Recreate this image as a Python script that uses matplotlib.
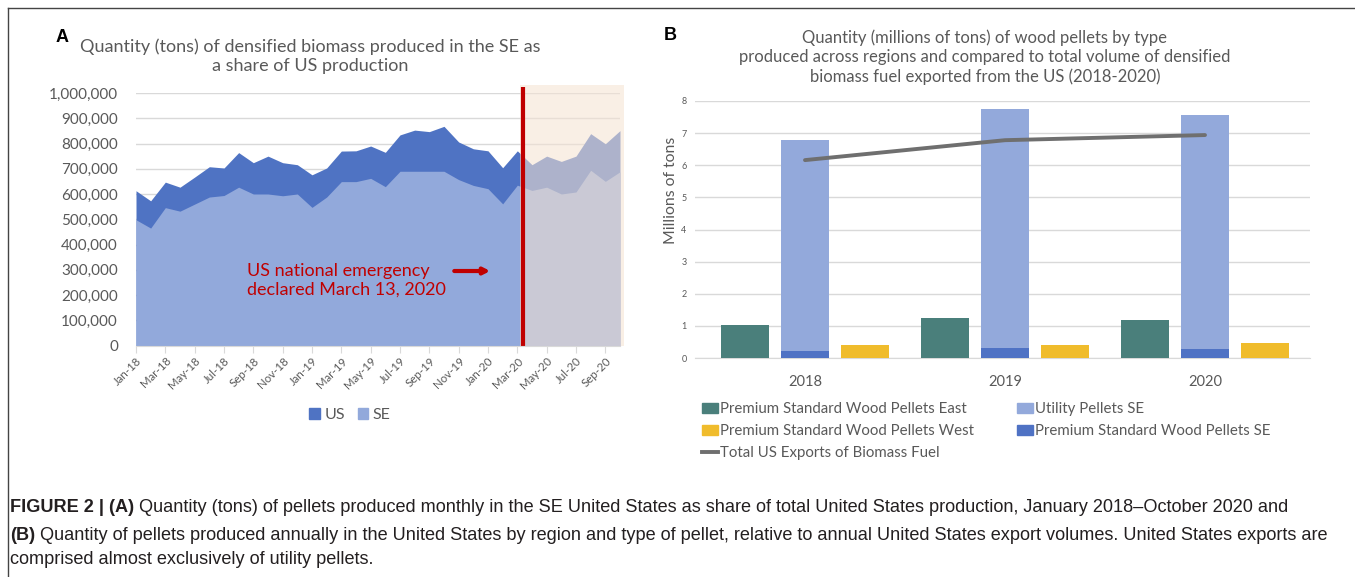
import matplotlib
matplotlib.use("Agg")
import matplotlib.pyplot as plt
from matplotlib.patches import Rectangle, Patch
from matplotlib.lines import Line2D
from matplotlib.ticker import FuncFormatter

# ---------------- data ----------------
months = ["Jan-18", "Feb-18", "Mar-18", "Apr-18", "May-18", "Jun-18", "Jul-18", "Aug-18",
          "Sep-18", "Oct-18", "Nov-18", "Dec-18", "Jan-19", "Feb-19", "Mar-19", "Apr-19",
          "May-19", "Jun-19", "Jul-19", "Aug-19", "Sep-19", "Oct-19", "Nov-19", "Dec-19",
          "Jan-20", "Feb-20", "Mar-20", "Apr-20", "May-20", "Jun-20", "Jul-20", "Aug-20",
          "Sep-20", "Oct-20"]
us_tons = [613000, 573000, 647000, 627000, 667000, 708000, 703000, 764000, 724000, 750000,
           724000, 716000, 676000, 703000, 770000, 771000, 790000, 765000, 834000, 853000,
           847000, 868000, 806000, 779000, 771000, 704000, 771000, 716000, 750000, 729000,
           750000, 839000, 799000, 851000]
se_tons = [498000, 465000, 546000, 532000, 560000, 588000, 594000, 627000, 600000, 600000,
           593000, 600000, 547000, 588000, 649000, 649000, 662000, 629000, 690000, 690000,
           690000, 690000, 657000, 634000, 621000, 561000, 635000, 614000, 627000, 600000,
           608000, 694000, 650000, 688000]
emergency_month = 26.4   # March 13, 2020 on the month axis

years = ["2018", "2019", "2020"]
premium_east = [1.02, 1.24, 1.19]
premium_se = [0.23, 0.32, 0.29]
utility_se = [6.56, 7.43, 7.26]
premium_west = [0.39, 0.42, 0.48]
total_exports = [6.16, 6.78, 6.94]

# ---------------- style ----------------
W, H = 1355, 577
fig = plt.figure(figsize=(W / 100, H / 100), dpi=100)
FONT = ["Lato", "DejaVu Sans"]
CAP = ["Liberation Sans", "DejaVu Sans"]
GREY = "#595959"
GRID = "#D9D9D9"
C_US = "#4F73C3"
C_SE = "#92A9DB"
C_EAST = "#4A7F7B"
C_UTIL = "#93A9DB"
C_PSE = "#4F72C4"
C_WEST = "#F0BC2C"
C_LINE = "#6F6F6F"
RED = "#C00000"


def fx(x):
    return x / W


def fy(y):
    return 1 - y / H


# frame lines
fig.add_artist(Line2D([fx(8), fx(8)], [fy(8), 0], color="#444444", lw=1.0))
fig.add_artist(Line2D([fx(8), 1], [fy(8), fy(8)], color="#444444", lw=1.0))

# ---------------- panel A ----------------
axA = fig.add_axes([fx(136), fy(345.5), fx(620) - fx(136), fy(93) - fy(345.5)])
x = list(range(len(months)))
axA.fill_between(x, 0, us_tons, color=C_US, lw=0, zorder=2, label="US")
axA.fill_between(x, 0, se_tons, color=C_SE, lw=0, zorder=3, label="SE")
axA.set_xlim(0, len(months) - 1)
axA.set_ylim(0, 1000000)
axA.set_yticks(range(0, 1000001, 100000))
axA.yaxis.set_major_formatter(FuncFormatter(lambda v, p: f"{int(v):,}"))
axA.grid(axis="y", color=GRID, lw=1.0, zorder=0)
axA.set_axisbelow(True)
for s in ["top", "right", "left"]:
    axA.spines[s].set_visible(False)
axA.spines["bottom"].set_color(GRID)
axA.spines["bottom"].set_zorder(6)
axA.tick_params(axis="y", length=0, pad=13, labelsize=11, labelcolor=GREY)
for lab in axA.get_yticklabels():
    lab.set_family(FONT)
axA.set_xticks(x[::2])
axA.set_xticklabels(months[::2], rotation=45, ha="right", rotation_mode="anchor",
                    fontsize=8.3, color=GREY, family=FONT)
axA.tick_params(axis="x", length=5, color=GRID, pad=2)

# shaded post-emergency region
axA.add_patch(Rectangle((emergency_month - 0.25, 0), len(months) - 1 - emergency_month + 0.5,
                        1030000, facecolor=(245 / 255, 227 / 255, 210 / 255), alpha=0.57,
                        lw=0, zorder=4, clip_on=False))
axA.plot([emergency_month, emergency_month], [0, 1025000], color=RED, lw=3, zorder=5,
         clip_on=False, solid_capstyle="butt")
axA.text(7.55, 257000, "US national emergency\ndeclared March 13, 2020", color=RED,
         fontsize=13, family=FONT, ha="left", va="center", linespacing=1.2, zorder=6)
axA.annotate("", xy=(24.15, 295000), xytext=(21.7, 295000),
             arrowprops=dict(arrowstyle="-|>,head_length=0.35,head_width=0.18",
                             color=RED, lw=3, shrinkA=0, shrinkB=0), zorder=6)

fig.text(fx(62), fy(37), "A", fontsize=13, fontweight="bold", family=CAP, ha="center",
         va="center")
fig.text(fx(310), fy(56), "Quantity (tons) of densified biomass produced in the SE as\n"
         "a share of US production", fontsize=13, color=GREY, family=FONT, ha="center",
         va="center", linespacing=1.25)
legA = fig.legend(handles=[Patch(color=C_US, label="US"), Patch(color=C_SE, label="SE")],
                  loc="center", bbox_to_anchor=(fx(350), fy(415)), ncol=2, frameon=False,
                  prop={"family": FONT, "size": 11.5}, handlelength=0.65, handleheight=0.65,
                  handletextpad=0.3, columnspacing=0.8)
for t in legA.get_texts():
    t.set_color(GREY)

# ---------------- panel B ----------------
axB = fig.add_axes([fx(695), fy(358), fx(1310) - fx(695), fy(101) - fy(358)])
xb = list(range(len(years)))
off, bw = 0.3, 0.24
axB.bar([i - off for i in xb], premium_east, width=bw, color=C_EAST, zorder=3)
axB.bar(xb, premium_se, width=bw, color=C_PSE, zorder=3)
axB.bar(xb, utility_se, width=bw, bottom=premium_se, color=C_UTIL, zorder=3)
axB.bar([i + off for i in xb], premium_west, width=bw, color=C_WEST, zorder=3)
axB.plot(xb, total_exports, color=C_LINE, lw=2.8, zorder=4, solid_capstyle="round")
axB.set_xlim(-0.55, 2.525)
axB.set_ylim(0, 8)
axB.set_yticks(range(0, 9))
axB.grid(axis="y", color=GRID, lw=1.0, zorder=0)
axB.set_axisbelow(True)
for s in ["top", "right", "left"]:
    axB.spines[s].set_visible(False)
axB.spines["bottom"].set_color(GRID)
axB.tick_params(axis="y", length=0, pad=6, labelsize=6.5, labelcolor=GREY)
axB.set_xticks(xb)
axB.set_xticklabels(years, fontsize=10.5, color=GREY, family=FONT)
axB.tick_params(axis="x", length=0, pad=12)
for lab in axB.get_yticklabels():
    lab.set_family(FONT)
fig.text(fx(671), fy(190), "Millions of tons", fontsize=11.3, color=GREY, family=FONT,
         rotation=90, ha="center", va="center")

fig.text(fx(670), fy(36), "B", fontsize=13, fontweight="bold", family=CAP, ha="center",
         va="center")
fig.text(fx(985), fy(57), "Quantity (millions of tons) of wood pellets by type\n"
         "produced across regions and compared to total volume of densified\n"
         "biomass fuel exported from the US (2018-2020)", fontsize=12, color=GREY,
         family=FONT, ha="center", va="center", linespacing=1.25)

handlesB = [Patch(color=C_EAST, label="Premium Standard Wood Pellets East"),
            Patch(color=C_WEST, label="Premium Standard Wood Pellets West"),
            Line2D([], [], color=C_LINE, lw=2.8, label="Total US Exports of Biomass Fuel"),
            Patch(color=C_UTIL, label="Utility Pellets SE"),
            Patch(color=C_PSE, label="Premium Standard Wood Pellets SE")]
legB = fig.legend(handles=handlesB, loc="upper left", bbox_to_anchor=(fx(702), fy(402)),
                  ncol=2, frameon=False, prop={"family": FONT, "size": 10.8},
                  handlelength=1.05, handleheight=0.7, handletextpad=0.15,
                  columnspacing=2.85, labelspacing=0.55, borderpad=0, borderaxespad=0)
for t in legB.get_texts():
    t.set_color(GREY)

# ---------------- caption ----------------
cap_lines = [
    [("FIGURE 2 | (A)", "bold"), (" Quantity (tons) of pellets produced monthly in the SE United "
     "States as share of total United States production, January 2018\u2013October 2020 and",
     "normal")],
    [("(B)", "bold"), (" Quantity of pellets produced annually in the United States by region and "
     "type of pellet, relative to annual United States export volumes. United States exports are",
     "normal")],
    [("comprised almost exclusively of utility pellets.", "normal")],
]
cap_y = [508, 535, 560]
renderer = fig.canvas.get_renderer()
for parts, yy in zip(cap_lines, cap_y):
    xpos = 10
    for txt, wt in parts:
        t = fig.text(fx(xpos), fy(yy), txt, fontsize=13.05, fontweight=wt, family=CAP,
                     color="#231F20", ha="left", va="center")
        bb = t.get_window_extent(renderer=renderer)
        xpos += bb.width

fig.savefig("out.png", dpi=100)
